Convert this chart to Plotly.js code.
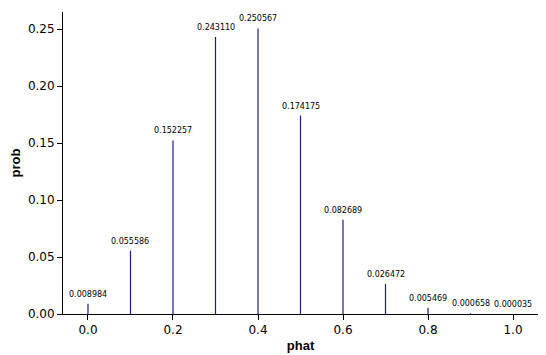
<!DOCTYPE html>
<html>
<head>
<meta charset="utf-8">
<script src="https://cdn.plot.ly/plotly-3.0.1.min.js"></script>
<style>html,body{margin:0;padding:0;background:#fff;}#chart{width:546px;height:355px;}</style>
</head>
<body>
<div id="chart"></div>
<script>
const phat = [0.0, 0.1, 0.2, 0.3, 0.4, 0.5, 0.6, 0.7, 0.8, 0.9, 1.0];
const prob = [0.008984, 0.055586, 0.152257, 0.243110, 0.250567, 0.174175, 0.082689, 0.026472, 0.005469, 0.000658, 0.000035];
const labels = ["0.008984", "0.055586", "0.152257", "0.243110", "0.250567", "0.174175", "0.082689", "0.026472", "0.005469", "0.000658", "0.000035"];

const lx = [], ly = [];
phat.forEach((x, i) => { lx.push(x, x, null); ly.push(0, prob[i], null); });

const trace = {
  x: lx, y: ly, type: 'scatter', mode: 'lines',
  line: {color: '#1a1a9a', width: 1.2},
  hoverinfo: 'skip', showlegend: false
};

const annotations = phat.map((x, i) => ({
  x: x, y: prob[i], text: labels[i], showarrow: false,
  xanchor: 'center', yanchor: 'bottom', yshift: 3,
  font: {family: 'DejaVu Sans', size: 8, color: '#000'}
}));

const layout = {
  width: 546, height: 355,
  margin: {l: 63, r: 8, t: 12, b: 41},
  paper_bgcolor: '#fff', plot_bgcolor: '#fff',
  font: {family: 'DejaVu Sans', size: 12, color: '#000'},
  xaxis: {
    range: [-0.0588, 1.0588], tickvals: [0, 0.2, 0.4, 0.6, 0.8, 1.0], tickformat: '.1f',
    showline: true, linecolor: '#000', linewidth: 1, ticks: 'outside', ticklen: 5, tickcolor: '#000',
    showgrid: false, zeroline: false,
    title: {text: 'phat', font: {family: 'Liberation Sans', size: 13, weight: 'bold'}, standoff: 4}
  },
  yaxis: {
    range: [0, 0.265], tickvals: [0, 0.05, 0.10, 0.15, 0.20, 0.25], tickformat: '.2f',
    showline: true, linecolor: '#000', linewidth: 1, ticks: 'outside', ticklen: 5, tickcolor: '#000',
    showgrid: false, zeroline: false,
    title: {text: 'prob', font: {family: 'Liberation Sans', size: 13, weight: 'bold'}, standoff: 4}
  },
  annotations: annotations
};

Plotly.newPlot('chart', [trace], layout, {displayModeBar: false, staticPlot: true});
</script>
</body>
</html>
